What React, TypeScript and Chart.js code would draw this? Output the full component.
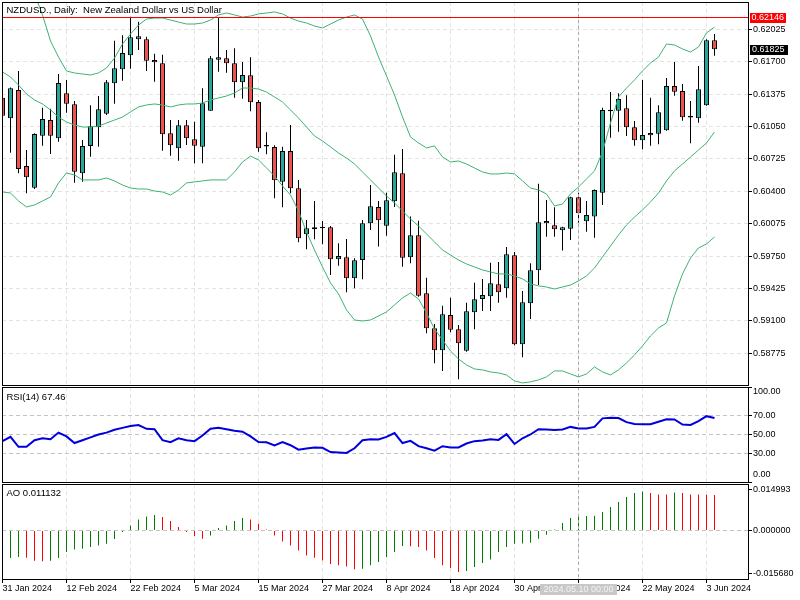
import React, { useEffect, useRef } from 'react';
import { Chart, registerables } from 'chart.js';

Chart.register(...registerables);

// ---------------- data ----------------
const tickIndex = [0, 8, 16, 24, 32, 40, 48, 56, 64, 72, 80, 88];
const tickLabels = ['31 Jan 2024', '12 Feb 2024', '22 Feb 2024', '5 Mar 2024', '15 Mar 2024', '27 Mar 2024', '8 Apr 2024', '18 Apr 2024', '30 Apr 2024', '10 May 2024', '22 May 2024', '3 Jun 2024'];
const priceTicks = [0.62025, 0.617, 0.61375, 0.6105, 0.60725, 0.604, 0.60075, 0.5975, 0.59425, 0.591, 0.58775];
const rsiTicks = [100, 70, 50, 30, 0];
const aoTicks = [0.014993, 0, -0.01568];
const highLine = 0.62146;
const lastPrice = 0.61825;
const crosshairIndex = 72;
const crosshairLabel = '2024.05.10 00:00';
const titleMain = 'NZDUSD., Daily:  New Zealand Dollar vs US Dollar';
const titleRsi = 'RSI(14) 67.46';
const titleAo = 'AO 0.011132';

const open = [0.61339, 0.61133, 0.61416, 0.60654, 0.60436, 0.60958, 0.61115, 0.60932, 0.61383, 0.61273, 0.60581, 0.60855, 0.61042, 0.61179, 0.61483, 0.61624, 0.61764, 0.61925, 0.61925, 0.61717, 0.61684, 0.60982, 0.60832, 0.61062, 0.60922, 0.60848, 0.61209, 0.61720, 0.61734, 0.61684, 0.61493, 0.61564, 0.61296, 0.60858, 0.60845, 0.60496, 0.60804, 0.60430, 0.59969, 0.60019, 0.60030, 0.60039, 0.59718, 0.59738, 0.59528, 0.59711, 0.60079, 0.60243, 0.60055, 0.60300, 0.60581, 0.59738, 0.59959, 0.59377, 0.59026, 0.58805, 0.59160, 0.59016, 0.58801, 0.59187, 0.59320, 0.59347, 0.59467, 0.59427, 0.59758, 0.58866, 0.59277, 0.59608, 0.60079, 0.60059, 0.60009, 0.60025, 0.60340, 0.60099, 0.60146, 0.60386, 0.61213, 0.61209, 0.61233, 0.61042, 0.60912, 0.60962, 0.60978, 0.61012, 0.61456, 0.61406, 0.61140, 0.61133, 0.61263, 0.61915];
const high = [0.61436, 0.61440, 0.61607, 0.60815, 0.60982, 0.61239, 0.61229, 0.61577, 0.61517, 0.61306, 0.60915, 0.61263, 0.61356, 0.61517, 0.61911, 0.61965, 0.62150, 0.62101, 0.61951, 0.61780, 0.61770, 0.61115, 0.61115, 0.61115, 0.61098, 0.61433, 0.61757, 0.62146, 0.61818, 0.61835, 0.61697, 0.61744, 0.61316, 0.60992, 0.60862, 0.60848, 0.61065, 0.60514, 0.60112, 0.60303, 0.60102, 0.60052, 0.59879, 0.59922, 0.59728, 0.60112, 0.60463, 0.60303, 0.60386, 0.60767, 0.60825, 0.60146, 0.60105, 0.59534, 0.59069, 0.59253, 0.59333, 0.59059, 0.59283, 0.59483, 0.59521, 0.59684, 0.59691, 0.59842, 0.59791, 0.59400, 0.59678, 0.60476, 0.60313, 0.60240, 0.60045, 0.60346, 0.60386, 0.60303, 0.60418, 0.61239, 0.61396, 0.61383, 0.61363, 0.61105, 0.61517, 0.61339, 0.61263, 0.61537, 0.61697, 0.61476, 0.61306, 0.61657, 0.61925, 0.61978];
const low = [0.61065, 0.60787, 0.60581, 0.60380, 0.60423, 0.60858, 0.60774, 0.60898, 0.61189, 0.60486, 0.60496, 0.60747, 0.60848, 0.61166, 0.61279, 0.61510, 0.61630, 0.61818, 0.61607, 0.61500, 0.60807, 0.60757, 0.60707, 0.60865, 0.60681, 0.60681, 0.61209, 0.61600, 0.61590, 0.61339, 0.61329, 0.61203, 0.60797, 0.60771, 0.60330, 0.60240, 0.60380, 0.59889, 0.59818, 0.59919, 0.59869, 0.59561, 0.59654, 0.59387, 0.59427, 0.59518, 0.60012, 0.59845, 0.59955, 0.60243, 0.59644, 0.59678, 0.59343, 0.58976, 0.58675, 0.58598, 0.58986, 0.58515, 0.58791, 0.59016, 0.59200, 0.59200, 0.59283, 0.59333, 0.58856, 0.58735, 0.59119, 0.59460, 0.59945, 0.59945, 0.59805, 0.59912, 0.60085, 0.59995, 0.59935, 0.60263, 0.60938, 0.60998, 0.60955, 0.60858, 0.60822, 0.60858, 0.60872, 0.61008, 0.61359, 0.61108, 0.60882, 0.61088, 0.61258, 0.61760];
const close = [0.61159, 0.61433, 0.60624, 0.60541, 0.60975, 0.61125, 0.60958, 0.61486, 0.61279, 0.60597, 0.60855, 0.61052, 0.61223, 0.61493, 0.61634, 0.61787, 0.61945, 0.61955, 0.61710, 0.61694, 0.60972, 0.60862, 0.61062, 0.60932, 0.60858, 0.61283, 0.61734, 0.61744, 0.61684, 0.61493, 0.61567, 0.61293, 0.60832, 0.60849, 0.60511, 0.60804, 0.60430, 0.59929, 0.60029, 0.60039, 0.60040, 0.59718, 0.59751, 0.59528, 0.59708, 0.60079, 0.60250, 0.60109, 0.60310, 0.60591, 0.59734, 0.59959, 0.59353, 0.59026, 0.58805, 0.59167, 0.59012, 0.58876, 0.59197, 0.59317, 0.59360, 0.59477, 0.59387, 0.59768, 0.58866, 0.59287, 0.59608, 0.60089, 0.60102, 0.60019, 0.60039, 0.60340, 0.60180, 0.60163, 0.60413, 0.61216, 0.61203, 0.61326, 0.61042, 0.60912, 0.60965, 0.60985, 0.61193, 0.61456, 0.61399, 0.61142, 0.61150, 0.61423, 0.61915, 0.61825];

const bbUpper = [0.62620, 0.62600, 0.62560, 0.62500, 0.62379, 0.62169, 0.61908, 0.61747, 0.61607, 0.61587, 0.61577, 0.61567, 0.61587, 0.61637, 0.61737, 0.61878, 0.61978, 0.62068, 0.62128, 0.62138, 0.62138, 0.62118, 0.62098, 0.62078, 0.62078, 0.62088, 0.62118, 0.62169, 0.62189, 0.62169, 0.62148, 0.62158, 0.62179, 0.62189, 0.62199, 0.62179, 0.62138, 0.62108, 0.62088, 0.62058, 0.62038, 0.62078, 0.62118, 0.62148, 0.62169, 0.62128, 0.61958, 0.61747, 0.61557, 0.61366, 0.61146, 0.60945, 0.60885, 0.60835, 0.60855, 0.60744, 0.60694, 0.60704, 0.60674, 0.60634, 0.60594, 0.60574, 0.60574, 0.60584, 0.60574, 0.60504, 0.60433, 0.60413, 0.60373, 0.60253, 0.60273, 0.60373, 0.60443, 0.60524, 0.60604, 0.60795, 0.61085, 0.61346, 0.61436, 0.61517, 0.61607, 0.61687, 0.61747, 0.61878, 0.61868, 0.61828, 0.61797, 0.61848, 0.61988, 0.62048];
const bbMiddle = [0.61597, 0.61547, 0.61466, 0.61376, 0.61316, 0.61276, 0.61216, 0.61145, 0.61095, 0.61065, 0.61045, 0.61045, 0.61055, 0.61085, 0.61115, 0.61145, 0.61196, 0.61246, 0.61266, 0.61276, 0.61266, 0.61246, 0.61266, 0.61276, 0.61276, 0.61286, 0.61316, 0.61336, 0.61356, 0.61386, 0.61436, 0.61436, 0.61426, 0.61396, 0.61346, 0.61296, 0.61216, 0.61135, 0.61045, 0.60955, 0.60905, 0.60845, 0.60784, 0.60734, 0.60674, 0.60594, 0.60514, 0.60433, 0.60353, 0.60283, 0.60203, 0.60122, 0.60052, 0.59972, 0.59892, 0.59811, 0.59761, 0.59711, 0.59671, 0.59641, 0.59611, 0.59591, 0.59571, 0.59571, 0.59551, 0.59521, 0.59471, 0.59451, 0.59440, 0.59420, 0.59440, 0.59460, 0.59501, 0.59551, 0.59631, 0.59741, 0.59852, 0.59962, 0.60062, 0.60142, 0.60213, 0.60293, 0.60383, 0.60504, 0.60604, 0.60674, 0.60744, 0.60814, 0.60885, 0.60995];
const bbLower = [0.60393, 0.60383, 0.60303, 0.60243, 0.60263, 0.60303, 0.60343, 0.60484, 0.60584, 0.60564, 0.60514, 0.60514, 0.60514, 0.60534, 0.60504, 0.60463, 0.60433, 0.60423, 0.60423, 0.60403, 0.60393, 0.60363, 0.60413, 0.60484, 0.60494, 0.60504, 0.60514, 0.60514, 0.60514, 0.60594, 0.60694, 0.60754, 0.60714, 0.60634, 0.60554, 0.60453, 0.60363, 0.60203, 0.59992, 0.59811, 0.59641, 0.59481, 0.59371, 0.59210, 0.59109, 0.59099, 0.59109, 0.59149, 0.59190, 0.59260, 0.59330, 0.59380, 0.59320, 0.59180, 0.59019, 0.58909, 0.58798, 0.58718, 0.58658, 0.58618, 0.58608, 0.58588, 0.58578, 0.58558, 0.58498, 0.58478, 0.58488, 0.58508, 0.58538, 0.58598, 0.58598, 0.58568, 0.58538, 0.58568, 0.58638, 0.58588, 0.58558, 0.58608, 0.58678, 0.58758, 0.58849, 0.58949, 0.59029, 0.59079, 0.59350, 0.59571, 0.59731, 0.59832, 0.59872, 0.59942];

const rsi = [43, 47.5, 37, 37, 44, 46, 45, 52, 48, 41, 44, 47, 50, 52, 55, 57, 59, 60, 56, 55.6, 44, 42, 46, 44, 43, 49, 56, 57, 55.5, 54, 53, 48, 42, 41.8, 38.5, 42, 38.7, 34, 35.3, 36.3, 36, 31.5, 31, 30.6, 35.5, 44, 45, 44.7, 47.5, 51.5, 41, 43.3, 37.7, 35.5, 33, 37.7, 36.3, 36.3, 40.5, 43, 43.7, 45, 44.3, 50.3, 40, 46, 50, 55.5, 55.3, 54.8, 55.3, 58, 56.3, 56.3, 58, 67, 67.5, 67.3, 63, 61, 60.8, 60.8, 63.5, 66, 65.8, 60.5, 60.1, 64, 69.3, 67.46];

const ao = [-0.01040, -0.01011, -0.00973, -0.00998, -0.01110, -0.01131, -0.01107, -0.01011, -0.00791, -0.00693, -0.00669, -0.00608, -0.00547, -0.00487, -0.00316, -0.00061, 0.00183, 0.00401, 0.00511, 0.00560, 0.00487, 0.00341, 0.00122, -0.00061, -0.00207, -0.00304, -0.00182, 0.00085, 0.00183, 0.00341, 0.00450, 0.00401, 0.00243, 0.00036, -0.00182, -0.00401, -0.00547, -0.00730, -0.00912, -0.00998, -0.01095, -0.01229, -0.01277, -0.01314, -0.01423, -0.01399, -0.01277, -0.01156, -0.00973, -0.00791, -0.00572, -0.00580, -0.00608, -0.00730, -0.01011, -0.01277, -0.01375, -0.01521, -0.01484, -0.01338, -0.01192, -0.01058, -0.00791, -0.00608, -0.00487, -0.00474, -0.00450, -0.00304, -0.00158, 0.00036, 0.00268, 0.00450, 0.00487, 0.00523, 0.00535, 0.00669, 0.00852, 0.01034, 0.01217, 0.01363, 0.01423, 0.01363, 0.01314, 0.01310, 0.01387, 0.01363, 0.01314, 0.01310, 0.01305, 0.01290];

// ---------------- styling ----------------
const FONT = '"Liberation Sans", Arial, sans-serif';
const FS_TITLE = 9.5;
const FS = 9;
const BULL = '#26A69A';
const BEAR = '#EF5350';
const BAND = '#3CB371';
const GRID = '#E4E4E4';
const LEVEL = '#C4C4C4';
const CROSS = '#A8A8A8';
const RSI_COLOR = '#0000DD';
const AO_UP = '#008000';
const AO_DOWN = '#FF0000';
const DASH = [4, 3];

const X_MIN = -0.0625;
const X_MAX = 93.1875;
const MAIN_MIN = 0.584569;
const MAIN_MAX = 0.622989;
const AO_MIN = -0.017746;
const AO_MAX = 0.016943;

function drawText(ctx: any, s: string, x: number, y: number, color = '#000', align: any = 'left', size = FS) {
  ctx.save();
  ctx.font = `${size}px ${FONT}`;
  ctx.fillStyle = color;
  ctx.textAlign = align;
  ctx.textBaseline = 'middle';
  ctx.fillText(s, x, y);
  ctx.restore();
}

function textWidth(ctx: any, s: string, size = FS) {
  ctx.save();
  ctx.font = `${size}px ${FONT}`;
  const w = ctx.measureText(s).width;
  ctx.restore();
  return w;
}

function noPad(s: any) {
  s.paddingTop = 0;
  s.paddingBottom = 0;
  s.paddingLeft = 0;
  s.paddingRight = 0;
}

function makeX(showLabels: boolean): any {
  return {
    type: 'linear',
    min: X_MIN,
    max: X_MAX,
    offset: false,
    afterBuildTicks: (s: any) => { s.ticks = tickIndex.map((v) => ({ value: v })); },
    afterFit: (s: any) => { s.height = showLabels ? 21 : 0; noPad(s); },
    grid: { display: true, offset: false, color: GRID, lineWidth: 1, drawTicks: showLabels, tickLength: 4, tickColor: '#000', tickWidth: 1 },
    border: { display: false, dash: DASH },
    ticks: {
      display: showLabels, autoSkip: false, maxRotation: 0, minRotation: 0, align: 'start', padding: 0,
      color: '#000', font: { family: FONT, size: FS },
      callback: (v: any) => { const k = tickIndex.indexOf(Number(v)); return k >= 0 ? tickLabels[k] : ''; },
    },
  };
}

function makeY(min: number, max: number, ticks: number[], fmt: (v: number) => string, gridColor: any): any {
  return {
    type: 'linear',
    position: 'right',
    min, max,
    afterBuildTicks: (s: any) => { s.ticks = ticks.map((v) => ({ value: v })); },
    afterFit: (s: any) => { s.width = 52; noPad(s); },
    grid: { color: gridColor, lineWidth: 1, drawTicks: true, tickLength: 4, tickColor: '#000', tickWidth: 1 },
    border: { display: false, dash: DASH },
    ticks: { color: '#000', padding: 1, font: { family: FONT, size: FS }, callback: (v: any) => fmt(Number(v)) },
  };
}

function drawFrame(chart: any, title: string, titleDy: number) {
  const { ctx, chartArea: a } = chart;
  ctx.save();
  ctx.strokeStyle = '#000';
  ctx.lineWidth = 1;
  ctx.setLineDash([]);
  ctx.strokeRect(a.left + 0.5, a.top + 0.5, a.right - a.left, a.bottom - a.top);
  ctx.restore();
  drawText(ctx, title, a.left + 4.5, a.top + titleDy, '#000', 'left', FS_TITLE);
}

function drawCrosshair(chart: any) {
  const { ctx, chartArea: a, scales } = chart;
  const x = Math.floor(scales.x.getPixelForValue(crosshairIndex)) + 0.5;
  ctx.save();
  ctx.strokeStyle = CROSS;
  ctx.lineWidth = 1;
  ctx.setLineDash([3, 3]);
  ctx.beginPath();
  ctx.moveTo(x, a.top);
  ctx.lineTo(x, a.bottom);
  ctx.stroke();
  ctx.restore();
}

const common: any = {
  responsive: false,
  animation: false,
  devicePixelRatio: 1,
  events: [],
  plugins: { legend: { display: false }, tooltip: { enabled: false }, title: { display: false } },
};

export default function App() {
  const mainRef = useRef<HTMLCanvasElement>(null);
  const rsiRef = useRef<HTMLCanvasElement>(null);
  const aoRef = useRef<HTMLCanvasElement>(null);

  useEffect(() => {
    const idx = close.map((_, i) => i);
    const charts: Chart[] = [];

    // ---------- main price panel ----------
    const bandDs = (label: string, arr: number[]) => ({
      type: 'line', label, data: idx.map((i) => ({ x: i, y: arr[i] })),
      borderColor: BAND, borderWidth: 1, pointRadius: 0, tension: 0, order: 0, clip: 0,
    });
    const mainChart = new Chart(mainRef.current as any, {
      type: 'bar',
      data: {
        datasets: [
          bandDs('upper', bbUpper),
          bandDs('middle', bbMiddle),
          bandDs('lower', bbLower),
          {
            type: 'bar', label: 'body',
            data: idx.map((i) => ({ x: i, y: [open[i], close[i]] })),
            backgroundColor: idx.map((i) => (close[i] >= open[i] ? BULL : BEAR)),
            borderColor: '#000', borderWidth: 1, borderSkipped: false,
            barThickness: 5, grouped: false, minBarLength: 1.5, inflateAmount: 0, order: 1, clip: 0,
          },
          {
            type: 'bar', label: 'wick',
            data: idx.map((i) => ({ x: i, y: [low[i], high[i]] })),
            backgroundColor: '#000', borderWidth: 0,
            barThickness: 1, grouped: false, inflateAmount: 0, order: 2, clip: 0,
          },
        ] as any,
      },
      options: {
        ...common,
        layout: { padding: { left: 2, right: 0, top: 2, bottom: 1 } },
        scales: {
          x: makeX(false),
          y: makeY(MAIN_MIN, MAIN_MAX, priceTicks, (v) => v.toFixed(5), GRID),
        },
      },
      plugins: [{
        id: 'mainDecor',
        afterDatasetsDraw(chart: any) {
          const { ctx, chartArea: a, scales } = chart;
          const y = Math.floor(scales.y.getPixelForValue(highLine)) + 0.5;
          ctx.save();
          ctx.strokeStyle = '#FF0000';
          ctx.lineWidth = 1;
          ctx.beginPath();
          ctx.moveTo(a.left, y);
          ctx.lineTo(a.right, y);
          ctx.stroke();
          ctx.restore();
          drawCrosshair(chart);
        },
        afterDraw(chart: any) {
          const { ctx, chartArea: a, scales } = chart;
          drawFrame(chart, titleMain, 8);
          const hTxt = highLine.toFixed(5);
          const yH = scales.y.getPixelForValue(highLine);
          ctx.save();
          ctx.fillStyle = '#FF0000';
          ctx.fillRect(a.right + 2, Math.round(yH - 4.5), Math.ceil(textWidth(ctx, hTxt)) + 3, 10);
          ctx.restore();
          drawText(ctx, hTxt, a.right + 3.5, yH + 0.5, '#FFFFFF');
          const lTxt = lastPrice.toFixed(5);
          const yL = scales.y.getPixelForValue(lastPrice);
          ctx.save();
          ctx.fillStyle = '#000000';
          ctx.fillRect(a.right + 2, Math.round(yL - 4.5), Math.ceil(textWidth(ctx, lTxt)) + 5, 10);
          ctx.restore();
          drawText(ctx, lTxt, a.right + 4, yL + 0.5, '#FFFFFF');
        },
      }],
    } as any);
    charts.push(mainChart);

    // ---------- RSI panel ----------
    const rsiChart = new Chart(rsiRef.current as any, {
      type: 'line',
      data: {
        datasets: [{
          label: 'RSI', data: idx.map((i) => ({ x: i, y: rsi[i] })),
          borderColor: RSI_COLOR, borderWidth: 2, pointRadius: 0, tension: 0, clip: 0,
        }] as any,
      },
      options: {
        ...common,
        layout: { padding: { left: 2, right: 0, top: 1, bottom: 1 } },
        scales: {
          x: makeX(false),
          y: makeY(0, 100, rsiTicks, (v) => (v === 100 || v === 0 ? '' : v.toFixed(2)),
            (c: any) => (c.tick && (c.tick.value === 100 || c.tick.value === 0) ? 'rgba(0,0,0,0)' : LEVEL)),
        },
      },
      plugins: [{
        id: 'rsiDecor',
        afterDatasetsDraw(chart: any) { drawCrosshair(chart); },
        afterDraw(chart: any) {
          const { ctx, chartArea: a } = chart;
          drawFrame(chart, titleRsi, 10);
          drawText(ctx, (100).toFixed(2), a.right + 5, a.top + 5);
          drawText(ctx, (0).toFixed(2), a.right + 5, a.bottom - 7);
        },
      }],
    } as any);
    charts.push(rsiChart);

    // ---------- AO panel ----------
    const aoChart = new Chart(aoRef.current as any, {
      type: 'bar',
      data: {
        datasets: [{
          label: 'AO', data: idx.map((i) => ({ x: i, y: ao[i] })),
          backgroundColor: idx.map((i) => (i > 0 && ao[i] < ao[i - 1] ? AO_DOWN : AO_UP)),
          borderWidth: 0, barThickness: 1, grouped: false, inflateAmount: 0, clip: 0,
        }] as any,
      },
      options: {
        ...common,
        layout: { padding: { left: 2, right: 0, top: 1, bottom: 0 } },
        scales: {
          x: makeX(true),
          y: makeY(AO_MIN, AO_MAX, aoTicks, (v) => v.toFixed(6),
            (c: any) => (c.tick && c.tick.value === 0 ? LEVEL : 'rgba(0,0,0,0)')),
        },
      },
      plugins: [{
        id: 'aoDecor',
        afterDatasetsDraw(chart: any) { drawCrosshair(chart); },
        afterDraw(chart: any) {
          const { ctx, chartArea: a, scales } = chart;
          drawFrame(chart, titleAo, 9);
          const cx = scales.x.getPixelForValue(crosshairIndex);
          ctx.save();
          ctx.fillStyle = '#C8C8C8';
          ctx.fillRect(Math.round(cx - 38.5), a.bottom + 5, 77, 11);
          ctx.restore();
          drawText(ctx, crosshairLabel, cx, a.bottom + 10.5, '#F4F4F4', 'center');
        },
      }],
    } as any);
    charts.push(aoChart);

    return () => { charts.forEach((c) => c.destroy()); };
  }, []);

  return (
    <div style={{ position: 'fixed', left: 0, top: 0, width: 800, height: 600, background: '#FFFFFF', overflow: 'hidden' }}>
      <canvas ref={mainRef} width={800} height={386} style={{ position: 'absolute', left: 0, top: 0, width: 800, height: 386 }} />
      <canvas ref={rsiRef} width={800} height={97} style={{ position: 'absolute', left: 0, top: 386, width: 800, height: 97 }} />
      <canvas ref={aoRef} width={800} height={117} style={{ position: 'absolute', left: 0, top: 483, width: 800, height: 117 }} />
    </div>
  );
}
